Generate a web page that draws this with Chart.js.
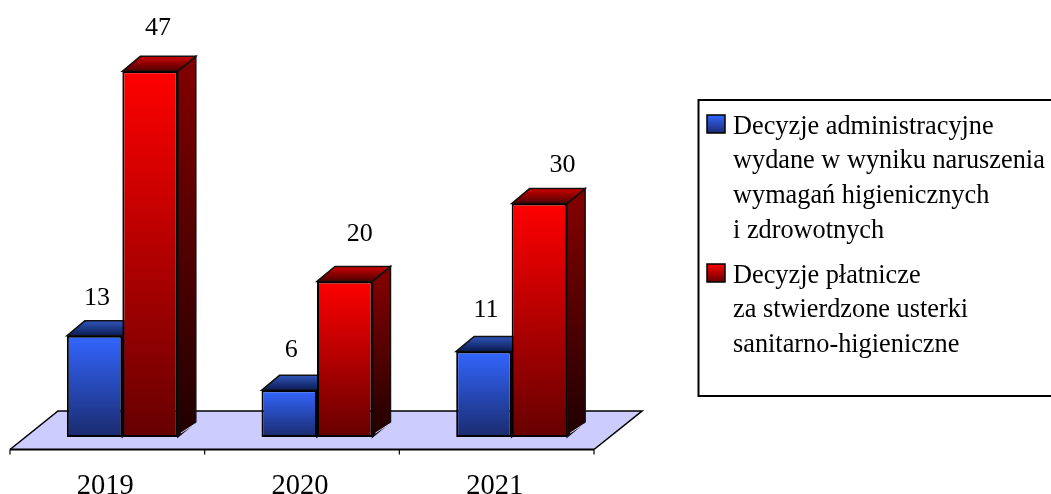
<!DOCTYPE html>
<html><head><meta charset="utf-8">
<style>html,body{margin:0;padding:0;background:#fff}canvas{display:block}</style>
<script src="https://cdn.jsdelivr.net/npm/chart.js@4/dist/chart.umd.min.js"></script>
</head><body>
<canvas id="c" width="1051" height="494"></canvas>
<script>
const categories = ['2019', '2020', '2021'];
const decyzjeAdministracyjne = [13, 6, 11];
const decyzjePlatnicze = [47, 20, 30];
const legendAdministracyjne = ['Decyzje administracyjne', 'wydane w wyniku naruszenia', 'wymagań higienicznych', 'i zdrowotnych'];
const legendPlatnicze = ['Decyzje płatnicze', 'za stwierdzone usterki', 'sanitarno-higieniczne'];

const SERIF = '"Liberation Serif","Times New Roman",serif';
const DX = 18, DY = 15;
const PAL = [
  {front:['#3366ff','#1a2b6e'], side:['#1a337f','#0a1538'], top:['#2f55b8','#0b1a52']},
  {front:['#ff0000','#660000'], side:['#800000','#200000'], top:['#cc0000','#4d0000']}
];
// hand nudges of the value labels relative to the bar centre: [dx, dy above top]
const LABEL_NUDGE = [[[2.5,38],[2,40],[2,41]],[[8,43],[15,47],[23,38]]];

function grad(ctx,y0,y1,c){const g=ctx.createLinearGradient(0,y0,0,y1);g.addColorStop(0,c[0]);g.addColorStop(1,c[1]);return g;}
function poly(ctx,pts,fill,stroke,w){ctx.beginPath();pts.forEach((p,i)=>i?ctx.lineTo(p[0],p[1]):ctx.moveTo(p[0],p[1]));ctx.closePath();
  if(fill){ctx.fillStyle=fill;ctx.fill();} if(stroke){ctx.strokeStyle=stroke;ctx.lineWidth=w;ctx.lineJoin='miter';ctx.stroke();}}
function faces(ctx,meta,p){
  ctx.save();
  meta.data.forEach(b=>{
    const l=b.x-b.width/2,r=b.x+b.width/2,t=b.y,bo=b.base;
    poly(ctx,[[r,t],[r+DX,t-DY],[r+DX,bo-DY],[r,bo]],grad(ctx,t,bo,p.side),'#111',1.5);
    // pale glint along the lower edge of the side face
    ctx.strokeStyle='#d8d8ff';ctx.lineWidth=1;ctx.beginPath();ctx.moveTo(r+3,bo-4);ctx.lineTo(r+DX-1,bo-DY-1+3);ctx.stroke();
    poly(ctx,[[l,t],[l+DX,t-DY],[r+DX,t-DY],[r,t]],grad(ctx,t-DY,t,p.top),'#111',1.5);
  });
  ctx.restore();
}

const threeD = {
  id:'threeD',
  beforeDatasetsDraw(chart){
    const {ctx,scales:{x}}=chart;
    const cat=x.getPixelForTick(1)-x.getPixelForTick(0);
    const L=x.getPixelForTick(0)-cat/2-15, R=L+cat*3, yF=449.5, yB=411;
    ctx.save();
    poly(ctx,[[L,yF],[L+48,yB],[R+48,yB],[R,yF]],'#ccccff');
    ctx.strokeStyle='#000';ctx.lineWidth=1.6;
    ctx.beginPath();ctx.moveTo(L,yF);ctx.lineTo(L+48,yB);ctx.lineTo(R+48,yB);ctx.lineTo(R,yF);ctx.stroke();
    ctx.lineWidth=2;ctx.beginPath();ctx.moveTo(L,yF);ctx.lineTo(R,yF);ctx.stroke();
    ctx.lineWidth=1.2;ctx.beginPath();
    for(let i=0;i<=3;i++){const t=L+cat*i;ctx.moveTo(t,yF);ctx.lineTo(t,yF+5);}
    ctx.stroke();
    ctx.restore();
    // blue columns go first so that the red ones overlap them
    const blue=chart.getDatasetMeta(0);
    faces(ctx,blue,PAL[0]);
    blue.controller.draw();
  },
  beforeDatasetDraw(chart,args){
    if(args.index===0) return false;
    faces(chart.ctx,args.meta,PAL[args.index]);
  },
  afterDatasetsDraw(chart){
    const {ctx}=chart;
    ctx.save();
    ctx.fillStyle='#000';ctx.font='26px '+SERIF;ctx.textAlign='center';ctx.textBaseline='middle';
    chart.data.datasets.forEach((ds,i)=>{
      chart.getDatasetMeta(i).data.forEach((b,j)=>{
        const n=LABEL_NUDGE[i][j];
        ctx.fillText(String(ds.data[j]),b.x+n[0],b.y-n[1]);
      });
    });
    // legend
    ctx.strokeStyle='#000';ctx.lineWidth=2;ctx.strokeRect(698.5,100,370,296);
    const item=(lines,ys,sy,pi)=>{
      ctx.fillStyle=grad(ctx,sy,sy+18,PAL[pi].front);ctx.fillRect(707,sy,18,18);
      ctx.strokeStyle='#000';ctx.lineWidth=1.5;ctx.strokeRect(707,sy,18,18);
      ctx.fillStyle='#000';ctx.font='26.3px '+SERIF;ctx.textAlign='left';ctx.textBaseline='alphabetic';
      lines.forEach((s,k)=>ctx.fillText(s,733,ys[k]));
    };
    item(legendAdministracyjne,[134,168,203,238],115,0);
    item(legendPlatnicze,[283,317,352],264,1);
    ctx.restore();
  }
};

new Chart(document.getElementById('c'),{
  type:'bar',
  data:{labels:categories,datasets:[0,1].map(i=>({
    label:(i?legendPlatnicze:legendAdministracyjne).join(' '),
    data:i?decyzjePlatnicze:decyzjeAdministracyjne,
    categoryPercentage:0.57,barPercentage:1,
    borderColor:'#000',borderWidth:2,borderSkipped:false,
    backgroundColor(c){
      const s=c.chart.scales.y; if(!s||c.raw===undefined) return PAL[i].front[0];
      const y0=s.getPixelForValue(c.raw),y1=s.getPixelForValue(0);
      if(!Number.isFinite(y0)||!Number.isFinite(y1)) return PAL[i].front[0];
      return grad(c.chart.ctx,y0,y1,PAL[i].front);
    }
  }))},
  options:{
    responsive:false,animation:false,
    layout:{padding:{left:25,right:442,top:48,bottom:0}},
    plugins:{legend:{display:false},tooltip:{enabled:false}},
    scales:{
      y:{display:false,min:0,max:50},
      x:{grid:{display:false},border:{display:false},
        afterFit(s){s.height=57;},
        ticks:{color:'#000',font:{family:SERIF,size:28.5},padding:24,labelOffset:-17,maxRotation:0}}
    }
  },
  plugins:[threeD]
});
</script>
</body></html>
